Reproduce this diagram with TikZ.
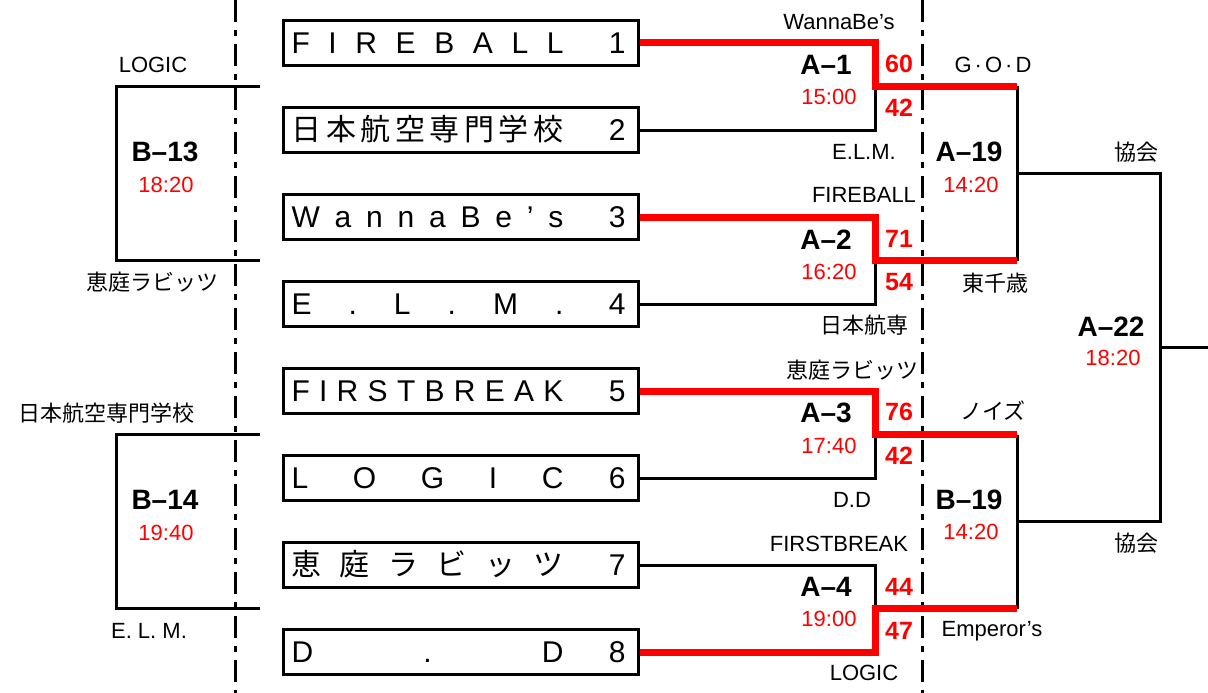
\documentclass[tikz,border=0pt]{standalone}
\usepackage{fontspec}
\setmainfont{Liberation Sans}
\newfontfamily\jp{Noto Sans CJK JP}
\usetikzlibrary{positioning}
\definecolor{winred}{HTML}{FF0000}
\definecolor{bracket}{HTML}{000000}

% team box: name spread over a fixed width, seed number at the right
\newcommand\teamrow[2]{\makebox[355pt][s]{\hspace{8pt}\makebox[272pt][s]{#1}\hfill#2\hspace{13pt}}}

\begin{document}
\begin{tikzpicture}[x=1pt, y=-1pt,
  team/.style={draw=bracket, line width=3pt, inner sep=0pt, anchor=west,
               minimum height=45pt, text height=21pt, text depth=0pt,
               font=\fontsize{30}{32}\selectfont},
  lbl/.style={inner sep=0pt, font=\fontsize{22}{24}\selectfont},
  match/.style={inner sep=0pt, font=\fontsize{28}{30}\selectfont\bfseries},
  clock/.style={inner sep=0pt, text=winred, font=\fontsize{22}{24}\selectfont},
  score/.style={inner sep=0pt, text=winred, font=\fontsize{25}{28}\selectfont\bfseries},
  lose/.style={draw=bracket, line width=3pt},
  win/.style={draw=winred, line width=7pt},
  split/.style={draw=bracket, line width=3pt, dash pattern=on 22pt off 8pt on 6pt off 8pt}
]
\useasboundingbox (0,0) rectangle (1208,693);

% dash-dot separators
\coordinate (s1t) at (235,0);   \coordinate (s1b) at (235,693);
\coordinate (s2t) at (922,0);   \coordinate (s2b) at (922,693);
\draw[split] (s1t) -- (s1b);
\draw[split] (s2t) -- (s2b);

% teams
\node[team] (t1) at (282,43)  {\teamrow{F\hfill I\hfill R\hfill E\hfill B\hfill A\hfill L\hfill L}{1}};
\node[team] (t2) at (282,130) {\teamrow{\jp 日\hfill 本\hfill 航\hfill 空\hfill 専\hfill 門\hfill 学\hfill 校}{2}};
\node[team] (t3) at (282,217) {\teamrow{W\hfill a\hfill n\hfill n\hfill a\hfill B\hfill e\hfill ’\hfill s}{3}};
\node[team] (t4) at (282,304) {\teamrow{E\hfill .\hfill L\hfill .\hfill M\hfill .}{4}};
\node[team] (t5) at (282,391) {\teamrow{F\hfill I\hfill R\hfill S\hfill T\hfill B\hfill R\hfill E\hfill A\hfill K}{5}};
\node[team] (t6) at (282,478) {\teamrow{L\hfill O\hfill G\hfill I\hfill C}{6}};
\node[team] (t7) at (282,565) {\teamrow{\jp 恵\hfill 庭\hfill ラ\hfill ビ\hfill ッ\hfill ツ}{7}};
\node[team] (t8) at (282,652) {\teamrow{D\hfill .\hfill D}{8}};

% bracket joints
\coordinate (m1) at (875,86.5);
\coordinate (m2) at (875,260.5);
\coordinate (m3) at (875,434.5);
\coordinate (m4) at (875,608.5);
\coordinate (j1) at (1017,86.5);
\coordinate (j2) at (1017,260.5);
\coordinate (j3) at (1017,434.5);
\coordinate (j4) at (1017,608.5);
\coordinate (k1) at (1160,173.5);
\coordinate (k2) at (1160,521.5);
\coordinate (fin) at (1208,347.5);

% B-13 / B-14 brackets
\coordinate (b1t) at (260,86.5);  \coordinate (b1b) at (260,260.5);
\coordinate (b2t) at (260,434.5); \coordinate (b2b) at (260,608.5);
\draw[lose] (b1t) -| (116,173.5) |- (b1b);
\draw[lose] (b2t) -| (116,521.5) |- (b2b);

% losers first
\draw[lose] (t2.east) -| (m1);
\draw[lose] (t4.east) -| (m2);
\draw[lose] (t6.east) -| (m3);
\draw[lose] (t7.east) -| (m4);
\draw[lose] (j1) -- (j2);
\draw[lose] (j3) -- (j4);
\draw[lose] (1017,173.5) -- (k1) -- (k2) -- (1017,521.5);
\draw[lose] (1160,347.5) -- (fin);

% winners
\draw[win] (t1.east) -| (m1) -- (j1);
\draw[win] (t3.east) -| (m2) -- (j2);
\draw[win] (t5.east) -| (m3) -- (j3);
\draw[win] (t8.east) -| (m4) -- (j4);

% left side
\node[lbl] (l13a) at (153,65)  {LOGIC};
\node[lbl] (l13b) at (152,282) {\jp 恵庭ラビッツ};
\node[lbl] (l14a) at (107,413) {\jp 日本航空専門学校};
\node[lbl] (l14b) at (149,631) {E. L. M.};
\node[match] (b13) at (165,152) {B–13};
\node[clock] (c13) at (166,185) {18:20};
\node[match] (b14) at (165,500) {B–14};
\node[clock] (c14) at (166,533) {19:40};

% first round
\node[lbl] (r1a) at (839,22)  {WannaBe’s};
\node[lbl] (r1b) at (864,152) {E.L.M.};
\node[lbl] (r2a) at (864,195) {FIREBALL};
\node[lbl] (r2b) at (864,325) {\jp 日本航専};
\node[lbl] (r3a) at (852,370) {\jp 恵庭ラビッツ};
\node[lbl] (r3b) at (852,500) {D.D};
\node[lbl] (r4a) at (839,544) {FIRSTBREAK};
\node[lbl] (r4b) at (864,673) {LOGIC};
\node[match] (a1) at (826,65)  {A–1};
\node[clock] (c1) at (829,97)  {15:00};
\node[match] (a2) at (826,240) {A–2};
\node[clock] (c2) at (829,272) {16:20};
\node[match] (a3) at (826,413) {A–3};
\node[clock] (c3) at (829,446) {17:40};
\node[match] (a4) at (826,587) {A–4};
\node[clock] (c4) at (829,619) {19:00};
\node[score] (p1a) at (899,64)  {60};
\node[score] (p1b) at (899,108) {42};
\node[score] (p2a) at (899,239) {71};
\node[score] (p2b) at (899,282) {54};
\node[score] (p3a) at (899,412) {76};
\node[score] (p3b) at (899,456) {42};
\node[score] (p4a) at (899,587) {44};
\node[score] (p4b) at (899,631) {47};

% second round
\node[lbl] (q1a) at (993,65)  {G\kern3pt·\kern3pt O\kern3pt·\kern3pt D};
\node[lbl] (q1b) at (995,283) {\jp 東千歳};
\node[lbl] (q2a) at (993,411) {\jp ノイズ};
\node[lbl] (q2b) at (992,631) {Emperor’s};
\node[match] (a19) at (969,152) {A–19};
\node[clock] (c19) at (971,185) {14:20};
\node[match] (b19) at (969,500) {B–19};
\node[clock] (d19) at (971,532) {14:20};
\node[lbl] (f1) at (1136,152) {\jp 協会};
\node[lbl] (f2) at (1136,543) {\jp 協会};
\node[match] (a22) at (1111,327) {A–22};
\node[clock] (c22) at (1113,358) {18:20};
\end{tikzpicture}
\end{document}
